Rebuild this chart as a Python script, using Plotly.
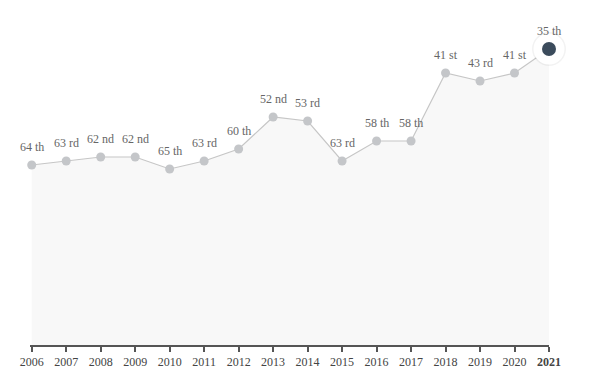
import plotly.graph_objects as go

years = [2006, 2007, 2008, 2009, 2010, 2011, 2012, 2013, 2014, 2015,
         2016, 2017, 2018, 2019, 2020, 2021]
ranks = [64, 63, 62, 62, 65, 63, 60, 52, 53, 63, 58, 58, 41, 43, 41, 35]
suffixes = ["th", "rd", "nd", "nd", "th", "rd", "th", "nd", "rd", "rd",
            "th", "th", "st", "rd", "st", "th"]
tick_labels = [str(y) for y in years[:-1]] + ["<b>2021</b>"]

RANK_BOTTOM = 109
RANK_TOP = 24.75
SERIF = "Liberation Serif, Times New Roman, serif"

fig = go.Figure()

# baseline for area fill
fig.add_trace(go.Scatter(
    x=years, y=[RANK_BOTTOM] * len(years), mode="lines",
    line=dict(width=0), hoverinfo="skip", showlegend=False))

# area + line
fig.add_trace(go.Scatter(
    x=years, y=ranks, mode="lines+markers", fill="tonexty",
    fillcolor="#f8f8f8",
    line=dict(color="#c6c6c6", width=1.2),
    marker=dict(size=9, color="#c4c6c9"),
    cliponaxis=False, showlegend=False))

# highlighted last point: white ring with soft shadow, dark dot
fig.add_trace(go.Scatter(
    x=years[-1:], y=ranks[-1:], mode="markers",
    marker=dict(size=34, color="rgba(0,0,0,0.05)"),
    cliponaxis=False, showlegend=False, hoverinfo="skip"))
fig.add_trace(go.Scatter(
    x=years[-1:], y=ranks[-1:], mode="markers",
    marker=dict(size=31, color="white"),
    cliponaxis=False, showlegend=False, hoverinfo="skip"))
fig.add_trace(go.Scatter(
    x=years[-1:], y=ranks[-1:], mode="markers",
    marker=dict(size=14, color="#3b4b5c"),
    cliponaxis=False, showlegend=False))

annotations = []
for yr, rk, sf in zip(years, ranks, suffixes):
    annotations.append(dict(
        x=yr, y=rk, text=f"{rk} {sf}", showarrow=False,
        yshift=18, xanchor="center", yanchor="middle",
        font=dict(family=SERIF, size=12, color="#666666")))

fig.update_layout(
    width=584, height=363,
    margin=dict(l=22, r=43, t=0, b=26, autoexpand=False),
    paper_bgcolor="white", plot_bgcolor="white",
    annotations=annotations,
    xaxis=dict(
        range=[2005.95, 2021], showgrid=False, zeroline=False,
        showline=True, linecolor="#555555", linewidth=1.5,
        ticks="outside", ticklen=5, tickcolor="#555555", tickwidth=1.5,
        tickvals=years, ticktext=tick_labels,
        tickfont=dict(family=SERIF, size=12, color="#444444")),
    yaxis=dict(
        range=[RANK_BOTTOM, RANK_TOP], showgrid=False, zeroline=False,
        showline=False, showticklabels=False, ticks=""),
)

fig.write_html("out.html")
